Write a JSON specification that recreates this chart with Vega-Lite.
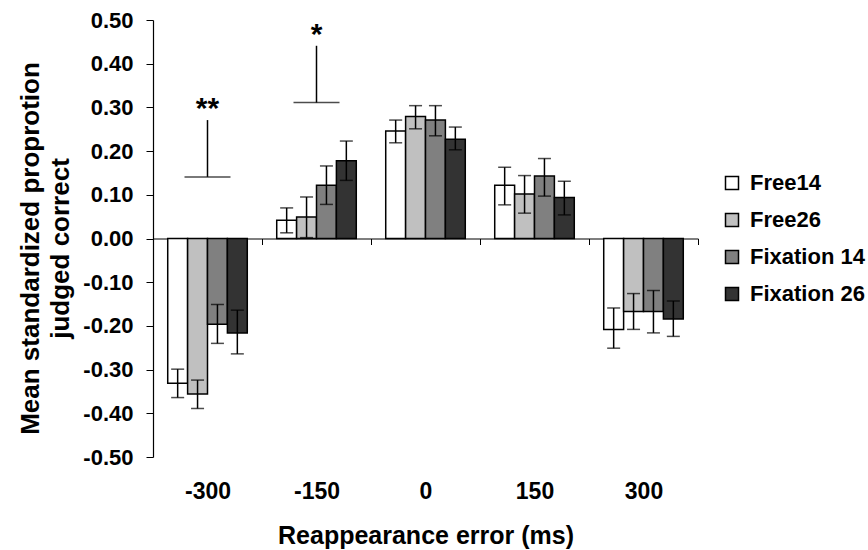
{
  "$schema": "https://vega.github.io/schema/vega-lite/v6.json",
  "width": 545,
  "height": 437,
  "autosize": {"type": "none"},
  "padding": {"left": 153, "top": 20, "right": 170, "bottom": 93},
  "background": "white",
  "config": {
    "font": "Liberation Sans",
    "view": {"stroke": null},
    "axis": {
      "labelFont": "Liberation Sans",
      "titleFont": "Liberation Sans",
      "labelFontWeight": "bold",
      "titleFontWeight": "bold",
      "labelColor": "black",
      "titleColor": "black",
      "domainColor": "black",
      "tickColor": "black",
      "grid": false
    }
  },
  "datasets": {
    "bars": [
      {"error": "-300", "condition": "Free14", "mean": -0.331, "lo": -0.364, "hi": -0.299},
      {"error": "-300", "condition": "Free26", "mean": -0.356, "lo": -0.389, "hi": -0.324},
      {"error": "-300", "condition": "Fixation 14", "mean": -0.196, "lo": -0.240, "hi": -0.151},
      {"error": "-300", "condition": "Fixation 26", "mean": -0.216, "lo": -0.264, "hi": -0.164},
      {"error": "-150", "condition": "Free14", "mean": 0.042, "lo": 0.013, "hi": 0.070},
      {"error": "-150", "condition": "Free26", "mean": 0.049, "lo": 0.002, "hi": 0.095},
      {"error": "-150", "condition": "Fixation 14", "mean": 0.122, "lo": 0.078, "hi": 0.166},
      {"error": "-150", "condition": "Fixation 26", "mean": 0.178, "lo": 0.133, "hi": 0.223},
      {"error": "0", "condition": "Free14", "mean": 0.246, "lo": 0.219, "hi": 0.271},
      {"error": "0", "condition": "Free26", "mean": 0.279, "lo": 0.251, "hi": 0.304},
      {"error": "0", "condition": "Fixation 14", "mean": 0.271, "lo": 0.235, "hi": 0.304},
      {"error": "0", "condition": "Fixation 26", "mean": 0.227, "lo": 0.203, "hi": 0.255},
      {"error": "150", "condition": "Free14", "mean": 0.122, "lo": 0.077, "hi": 0.163},
      {"error": "150", "condition": "Free26", "mean": 0.102, "lo": 0.058, "hi": 0.144},
      {"error": "150", "condition": "Fixation 14", "mean": 0.143, "lo": 0.097, "hi": 0.183},
      {"error": "150", "condition": "Fixation 26", "mean": 0.094, "lo": 0.054, "hi": 0.131},
      {"error": "300", "condition": "Free14", "mean": -0.208, "lo": -0.251, "hi": -0.159},
      {"error": "300", "condition": "Free26", "mean": -0.167, "lo": -0.208, "hi": -0.126},
      {"error": "300", "condition": "Fixation 14", "mean": -0.167, "lo": -0.216, "hi": -0.119},
      {"error": "300", "condition": "Fixation 26", "mean": -0.184, "lo": -0.224, "hi": -0.143}
    ],
    "sig": [
      {"error": "-300", "lo": 0.141, "hi": 0.271, "label": "**"},
      {"error": "-150", "lo": 0.311, "hi": 0.441, "label": "*"}
    ]
  },
  "layer": [
    {
      "data": {"name": "bars"},
      "mark": {"type": "bar", "stroke": "black", "strokeWidth": 1.5},
      "encoding": {
        "x": {
          "field": "error", "type": "nominal",
          "sort": ["-300", "-150", "0", "150", "300"],
          "scale": {"paddingInner": 0, "paddingOuter": 0},
          "axis": {
            "title": "Reappearance error (ms)",
            "orient": "bottom",
            "offset": -218.5,
            "tickBand": "extent",
            "tickSize": 6,
            "labelPadding": 236,
            "labelFontSize": 23,
            "labelAngle": 0,
            "titleFontSize": 25,
            "titlePadding": 85,
            "domainWidth": 1.2
          }
        },
        "xOffset": {
          "field": "condition", "type": "nominal",
          "sort": ["Free14", "Free26", "Fixation 14", "Fixation 26"],
          "scale": {"paddingInner": 0, "paddingOuter": 0.74}
        },
        "y": {
          "field": "mean", "type": "quantitative",
          "scale": {"domain": [-0.5, 0.5], "nice": false, "zero": true},
          "axis": {
            "title": ["Mean standardized proprotion", "judged correct"],
            "values": [-0.5, -0.4, -0.3, -0.2, -0.1, 0, 0.1, 0.2, 0.3, 0.4, 0.5],
            "labelExpr": "replace(format(datum.value, '.2f'), '\u2212', '-')",
            "labelFontSize": 22,
            "labelOverlap": false,
            "labelFlush": false,
            "tickSize": 7,
            "labelPadding": 13,
            "titleFontSize": 26,
            "titleLineHeight": 30,
            "titlePadding": 9,
            "titleY": 228,
            "domainWidth": 1.2
          }
        },
        "color": {
          "field": "condition", "type": "nominal",
          "sort": ["Free14", "Free26", "Fixation 14", "Fixation 26"],
          "scale": {
            "domain": ["Free14", "Free26", "Fixation 14", "Fixation 26"],
            "range": ["#ffffff", "#c0c0c0", "#808080", "#333333"]
          },
          "legend": {
            "orient": "none",
            "legendX": 568,
            "legendY": 152,
            "title": null,
            "padding": 0,
            "symbolType": "square",
            "symbolSize": 169,
            "symbolStrokeColor": "black",
            "symbolStrokeWidth": 1.5,
            "symbolOpacity": 1,
            "labelFont": "Liberation Sans",
            "labelFontWeight": "bold",
            "labelFontSize": 22,
            "labelColor": "black",
            "labelOffset": 7,
            "rowPadding": 15
          }
        }
      }
    },
    {
      "data": {"name": "bars"},
      "mark": {"type": "rule", "color": "black", "strokeWidth": 1.5},
      "encoding": {
        "x": {"field": "error", "type": "nominal", "sort": ["-300", "-150", "0", "150", "300"]},
        "xOffset": {"field": "condition", "type": "nominal", "sort": ["Free14", "Free26", "Fixation 14", "Fixation 26"]},
        "y": {"field": "lo", "type": "quantitative"},
        "y2": {"field": "hi"}
      }
    },
    {
      "data": {"name": "bars"},
      "mark": {"type": "tick", "color": "black", "size": 13, "thickness": 1.5, "orient": "horizontal"},
      "encoding": {
        "x": {"field": "error", "type": "nominal", "sort": ["-300", "-150", "0", "150", "300"]},
        "xOffset": {"field": "condition", "type": "nominal", "sort": ["Free14", "Free26", "Fixation 14", "Fixation 26"]},
        "y": {"field": "lo", "type": "quantitative"}
      }
    },
    {
      "data": {"name": "bars"},
      "mark": {"type": "tick", "color": "black", "size": 13, "thickness": 1.5, "orient": "horizontal"},
      "encoding": {
        "x": {"field": "error", "type": "nominal", "sort": ["-300", "-150", "0", "150", "300"]},
        "xOffset": {"field": "condition", "type": "nominal", "sort": ["Free14", "Free26", "Fixation 14", "Fixation 26"]},
        "y": {"field": "hi", "type": "quantitative"}
      }
    },
    {
      "data": {"name": "sig"},
      "mark": {"type": "rule", "color": "black", "strokeWidth": 1.5},
      "encoding": {
        "x": {"field": "error", "type": "nominal", "sort": ["-300", "-150", "0", "150", "300"]},
        "y": {"field": "lo", "type": "quantitative"},
        "y2": {"field": "hi"}
      }
    },
    {
      "data": {"name": "sig"},
      "mark": {"type": "tick", "color": "black", "size": 46, "thickness": 1.5, "orient": "horizontal"},
      "encoding": {
        "x": {"field": "error", "type": "nominal", "sort": ["-300", "-150", "0", "150", "300"]},
        "y": {"field": "lo", "type": "quantitative"}
      }
    },
    {
      "data": {"name": "sig"},
      "mark": {"type": "text", "color": "black", "font": "Liberation Sans", "fontWeight": "bold", "fontSize": 30, "baseline": "alphabetic", "align": "center", "dy": -2},
      "encoding": {
        "x": {"field": "error", "type": "nominal", "sort": ["-300", "-150", "0", "150", "300"]},
        "y": {"field": "hi", "type": "quantitative"},
        "text": {"field": "label"}
      }
    }
  ]
}
